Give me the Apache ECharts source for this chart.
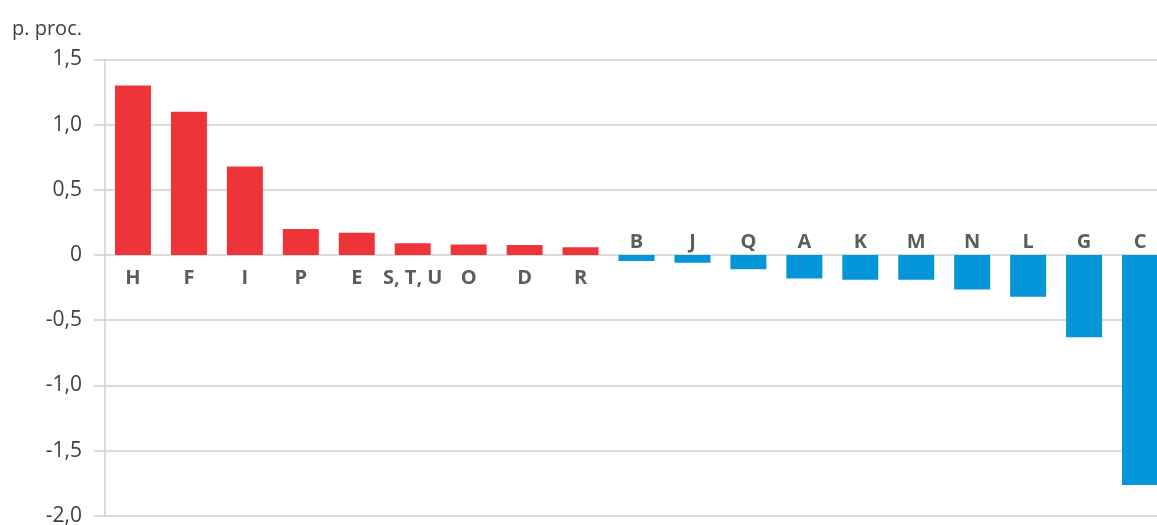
<!DOCTYPE html>
<html>
<head>
<meta charset="utf-8">
<script src="https://cdn.jsdelivr.net/npm/echarts@6/dist/echarts.min.js"></script>
<style>
html,body{margin:0;padding:0;background:#fff;}
#c{width:1157px;height:525px;}
</style>
</head>
<body>
<div id="c"></div>
<script>
const categories = ['H','F','I','P','E','S, T, U','O','D','R','B','J','Q','A','K','M','N','L','G','C'];
const values = [1.30,1.10,0.68,0.20,0.17,0.09,0.08,0.077,0.06,-0.045,-0.06,-0.11,-0.18,-0.19,-0.19,-0.265,-0.32,-0.63,-1.765];
const yTicks = [-2.0,-1.5,-1.0,-0.5,0,0.5,1.0,1.5];
const unitLabel = 'p. proc.';

const RED = '#EE3439', BLUE = '#0596D9';
const chart = echarts.init(document.getElementById('c'));
chart.setOption({
  animation:false,
  backgroundColor:'#fff',
  title:{text:unitLabel,left:7,top:14,textStyle:{fontFamily:'Open Sans',fontSize:20,fontWeight:'normal',color:'#404040'}},
  grid:{left:105,width:1063,top:59.5,bottom:9.3,containLabel:false,outerBoundsMode:'none'},
  xAxis:{type:'category',data:categories,axisLine:{show:false},axisTick:{show:false},axisLabel:{show:false},splitLine:{show:false}},
  yAxis:{type:'value',min:yTicks[0],max:yTicks[yTicks.length-1],interval:0.5,
    axisLine:{show:true,lineStyle:{color:'#d0d0d0',width:1.5}},
    axisTick:{show:true,length:11,lineStyle:{color:'#d0d0d0',width:1.5}},
    splitLine:{lineStyle:{color:'#d0d0d0',width:1.5}},
    axisLabel:{margin:23,fontFamily:'Open Sans',fontSize:21,color:'#404040',
      formatter:v=>v===0?'0':v.toFixed(1).replace('.',',')}},
  series:[
    {type:'bar',barWidth:36,data:values.map(v=>({value:v,itemStyle:{color:v>=0?RED:BLUE}})),silent:true},
    {type:'scatter',symbolSize:0,silent:true,
      data:categories.map((c,i)=>({value:[c,0],label:{show:true,position:values[i]>=0?'bottom':'top',distance:values[i]>=0?13:3,
        formatter:c,fontFamily:'Open Sans',fontWeight:'bold',fontSize:20,color:'#333'}}))}
  ]
});
</script>
</body>
</html>
